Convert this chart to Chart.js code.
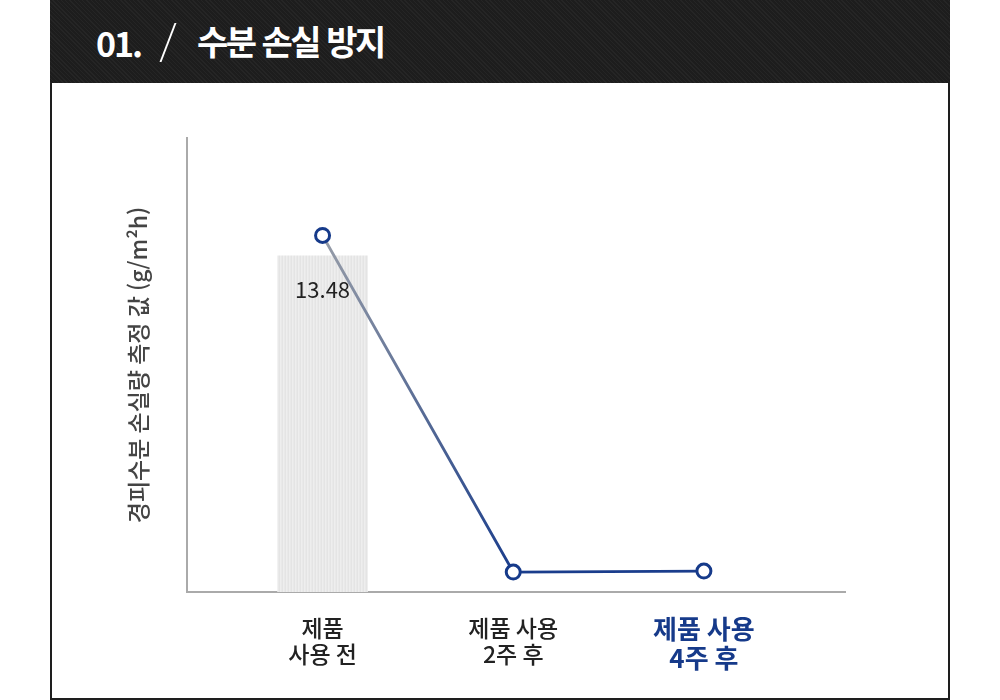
<!DOCTYPE html>
<html lang="ko">
<head>
<meta charset="utf-8">
<title>수분 손실 방지</title>
<script src="https://cdn.jsdelivr.net/npm/chart.js@4.4.1/dist/chart.umd.min.js"></script>
<style>
  html, body { margin: 0; padding: 0; background: #fff; }
  body { width: 1000px; height: 700px; position: relative; overflow: hidden; font-family: "Noto Sans CJK KR", "Noto Sans", sans-serif; }
  .frame { position: absolute; left: 50px; top: 0; width: 900px; height: 700px; box-sizing: border-box; border: 2px solid #1e1e1e; }
  .head {
    position: absolute; left: 50px; top: 0; width: 900px; height: 83px;
    background-color: #1d1d1d;
    background-image: repeating-linear-gradient(45deg, rgba(255,255,255,0.035) 0 1px, transparent 1px 3px);
  }
  .head span { position: absolute; color: #fff; font-weight: 700; line-height: 1; white-space: nowrap; }
  .num { left: 46px; top: 26px; font-size: 34px; letter-spacing: -2px; }
  .slash { left: 117px; top: 23px; width: 1.5px; height: 39px; background: #fff; transform: skewX(-21deg); }
  .ttl { left: 147px; top: 24px; font-size: 34px; letter-spacing: -2.5px; }
  #wrap { position: absolute; left: 0; top: 0; width: 1000px; height: 700px; }
</style>
</head>
<body>
<div class="frame"></div>
<div class="head">
  <span class="num">01.</span>
  <span class="slash"></span>
  <span class="ttl">수분 손실 방지</span>
</div>
<div id="wrap"><canvas id="chart"></canvas></div>
<script>
// 데이터
const categories = [["제품", "사용 전"], ["제품 사용", "2주 후"], ["제품 사용", "4주 후"]];
const barValues = [13.48, null, null];
const lineValues = [14.3, 0.8, 0.84];
const yTitle = "경피수분 손실량 측정 값 (g/m²h)";

const FONT = '"Noto Sans CJK KR", "Noto Sans", sans-serif';
const NAVY = "#163a8a";

// 막대 줄무늬 패턴
const pat = document.createElement("canvas");
pat.width = 3; pat.height = 4;
const pctx = pat.getContext("2d");
["#e4e4e4", "#eeeeee", "#e9e9e9"].forEach((c, i) => { pctx.fillStyle = c; pctx.fillRect(i, 0, 1, 4); });
const barPattern = pctx.createPattern(pat, "repeat");

const barData = barValues.map((v, i) => ({ x: i, y: v })).filter(p => p.y !== null);
const lineData = lineValues.map((v, i) => ({ x: i, y: v }));

// 막대 위 값 표시
const barLabel = {
  id: "barLabel",
  afterDatasetsDraw(chart) {
    const meta = chart.getDatasetMeta(1);
    const c = chart.ctx;
    c.save();
    c.font = "22px " + FONT;
    c.fillStyle = "#222";
    c.textAlign = "center";
    c.textBaseline = "middle";
    meta.data.forEach((bar, i) => {
      c.fillText(barData[i].y.toFixed(2), bar.x, bar.y + 34);
    });
    c.restore();
  }
};

new Chart(document.getElementById("chart"), {
  plugins: [barLabel],
  data: {
    datasets: [
      {
        type: "line",
        order: 0,
        data: lineData,
        borderWidth: 2.8,
        borderColor: (ctx) => {
          const chart = ctx.chart;
          if (!chart.chartArea) return NAVY;
          const ys = chart.scales.y;
          const g = chart.ctx.createLinearGradient(0, ys.getPixelForValue(lineValues[0]), 0, ys.getPixelForValue(lineValues[1]));
          g.addColorStop(0, "#979da8");
          g.addColorStop(0.5, "#5b6e96");
          g.addColorStop(1, "#1a3d8c");
          return g;
        },
        pointRadius: 7,
        pointBorderWidth: 3,
        pointBackgroundColor: "#fff",
        pointBorderColor: NAVY,
        tension: 0
      },
      {
        type: "bar",
        order: 1,
        data: barData,
        backgroundColor: barPattern,
        barThickness: 90
      }
    ]
  },
  options: {
    responsive: true,
    maintainAspectRatio: false,
    animation: false,
    layout: { padding: { left: 126, right: 155, top: 138, bottom: 0 } },
    plugins: { legend: { display: false }, tooltip: { enabled: false } },
    scales: {
      x: {
        type: "linear",
        offset: false,
        min: -0.711,
        max: 2.74,
        grid: { display: false, drawTicks: false, offset: false },
        border: { display: true, color: "#aaaaaa", width: 2 },
        afterBuildTicks: (axis) => { axis.ticks = categories.map((_, i) => ({ value: i })); },
        afterFit: (axis) => { axis.height = 108; },
        ticks: {
          padding: 23,
          autoSkip: false,
          maxRotation: 0,
          callback: (v) => categories[v],
          color: (ctx) => ctx.index === 2 ? NAVY : "#222",
          font: (ctx) => ctx.index === 2
            ? { family: FONT, size: 26, weight: "bold", lineHeight: 1.1 }
            : { family: FONT, size: 23, weight: "500", lineHeight: 1.13 }
        }
      },
      y: {
        min: 0,
        max: 18.21,
        grid: { display: false, drawTicks: false },
        border: { display: true, color: "#aaaaaa", width: 2 },
        ticks: { display: false },
        afterFit: (axis) => { axis.width = 61; },
        title: {
          display: true,
          text: yTitle,
          color: "#444",
          font: { family: FONT, size: 23, weight: "500", lineHeight: 1.1 },
          padding: { top: 0, bottom: 0 }
        }
      }
    }
  }
});
</script>
</body>
</html>
